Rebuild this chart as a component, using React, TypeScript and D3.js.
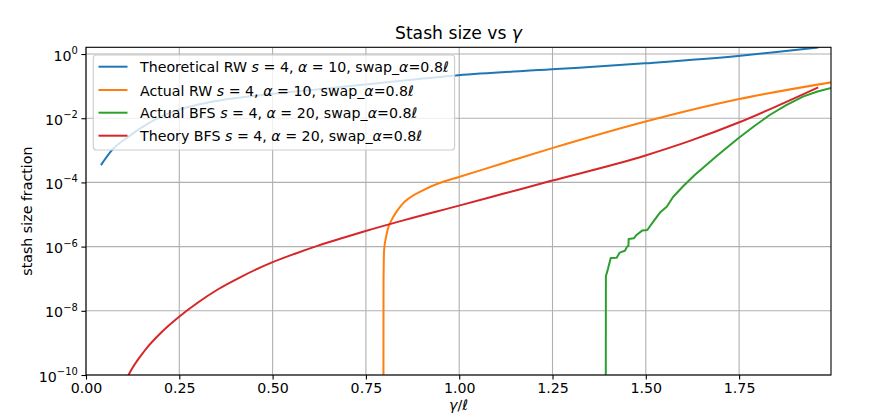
import React, { useEffect, useRef } from "react";
import * as d3 from "d3";

// figure size and axes box (pixels)
const W = 873;
const H = 417;
const plotLeft = 86;
const plotRight = 831;
const plotTop = 47.3;
const plotBottom = 375;

const FONT = "'DejaVu Sans', Verdana, sans-serif";
const fontSize = 14.2;

const xDomain = [0, 1.9962];
const yDomain = [1e-10, 1.62];
const xTicks = [0, 0.25, 0.5, 0.75, 1.0, 1.25, 1.5, 1.75];
const yTickExps = [-10, -8, -6, -4, -2, 0];

// Theoretical RW s=4, alpha=10
const theoryRwX = [0.04, 0.069, 0.113, 0.167, 0.247, 0.337, 0.471, 0.605, 0.8, 0.997, 1.248, 1.497, 1.747, 1.85, 1.962];
const theoryRwY = [3.47e-4, 1.0e-3, 2.63e-3, 6.92e-3, 1.82e-2, 3.24e-2, 5.25e-2, 7.59e-2, 0.129, 0.217, 0.333, 0.513, 0.867, 1.148, 1.6];

// Actual RW s=4, alpha=10
const actualRwX = [0.7968, 0.7972, 0.7988, 0.804, 0.808, 0.819, 0.832, 0.846, 0.904, 0.957, 0.997, 1.109, 1.247, 1.497, 1.747, 1.998];
const actualRwY = [1e-13, 7.4e-8, 7.9e-7, 2.0e-6, 3.3e-6, 6.8e-6, 1.23e-5, 2.0e-5, 5.75e-5, 1.05e-4, 1.45e-4, 3.7e-4, 1.15e-3, 7.76e-3, 3.89e-2, 0.132];

// Actual BFS s=4, alpha=20 (stepped simulation data)
const actualBfsX = [
  1.3925, 1.393, 1.399, 1.406, 1.422, 1.43, 1.444, 1.45, 1.4535, 1.454, 1.468, 1.475, 1.491, 1.504, 1.52, 1.538,
  1.556, 1.573, 1.6, 1.631, 1.69, 1.747, 1.79, 1.832, 1.875, 1.921, 1.96, 1.998,
];
const actualBfsY = [
  1e-13, 1.2e-7, 2.1e-7, 4.4e-7, 4.5e-7, 6.5e-7, 7.4e-7, 1.0e-6, 1.05e-6, 1.74e-6, 1.82e-6, 2.3e-6, 3.2e-6, 3.3e-6,
  6.0e-6, 1.15e-5, 1.74e-5, 3.5e-5, 7.6e-5, 1.7e-4, 6.6e-4, 2.34e-3, 5.6e-3, 1.26e-2, 2.5e-2, 4.7e-2, 6.8e-2, 8.9e-2,
];

// Theory BFS s=4, alpha=20
const theoryBfsX = [
  0.104, 0.113, 0.158, 0.203, 0.247, 0.3, 0.354, 0.417, 0.497, 0.56, 0.622, 0.685, 0.747, 0.855, 0.997, 1.12, 1.247,
  1.497, 1.62, 1.747, 1.85, 1.962,
];
const theoryBfsY = [
  5.6e-11, 9.5e-11, 5.9e-10, 2.19e-9, 6.2e-9, 1.82e-8, 4.7e-8, 1.17e-7, 3.16e-7, 6.0e-7, 1.07e-6, 1.82e-6, 3.0e-6,
  6.8e-6, 1.86e-5, 4.5e-5, 1.12e-4, 6.8e-4, 2.0e-3, 7.2e-3, 2.34e-2, 9.1e-2,
];

type Part = { t: string; it?: boolean };
const makeLabel = (prefix: string, alpha: number): Part[] => [
  { t: prefix + " " },
  { t: "s", it: true },
  { t: " = 4, " },
  { t: "α", it: true },
  { t: ` = ${alpha}, swap_` },
  { t: "α", it: true },
  { t: "=0.8" },
  { t: "ℓ", it: true },
];

const series = [
  { xs: theoryRwX, ys: theoryRwY, color: "#1f77b4", label: makeLabel("Theoretical RW", 10), smooth: true },
  { xs: actualRwX, ys: actualRwY, color: "#ff7f0e", label: makeLabel("Actual RW", 10), smooth: true },
  { xs: actualBfsX, ys: actualBfsY, color: "#2ca02c", label: makeLabel("Actual BFS", 20), smooth: false },
  { xs: theoryBfsX, ys: theoryBfsY, color: "#d62728", label: makeLabel("Theory BFS", 20), smooth: true },
];

function App() {
  const svgRef = useRef<SVGSVGElement>(null);

  useEffect(() => {
    const svg = d3.select(svgRef.current);
    svg.selectAll("*").remove();

    const x = d3.scaleLinear().domain(xDomain).range([plotLeft, plotRight]);
    const y = d3.scaleLog().domain(yDomain).range([plotBottom, plotTop]);

    svg.append("rect").attr("width", W).attr("height", H).attr("fill", "#fff");

    svg
      .append("clipPath")
      .attr("id", "plot-clip")
      .append("rect")
      .attr("x", plotLeft)
      .attr("y", plotTop)
      .attr("width", plotRight - plotLeft)
      .attr("height", plotBottom - plotTop);

    // grid
    const grid = svg.append("g").attr("stroke", "#b0b0b0").attr("stroke-width", 1.1);
    xTicks.forEach((t) => {
      grid.append("line").attr("x1", x(t)).attr("x2", x(t)).attr("y1", plotTop).attr("y2", plotBottom);
    });
    yTickExps.forEach((e) => {
      grid.append("line").attr("x1", plotLeft).attr("x2", plotRight).attr("y1", y(10 ** e)).attr("y2", y(10 ** e));
    });

    // lines
    const lines = svg.append("g").attr("clip-path", "url(#plot-clip)");
    series.forEach((s) => {
      const pts: [number, number][] = s.xs.map((v, i) => [v, s.ys[i]]);
      const gen = d3
        .line<[number, number]>()
        .x((d) => x(d[0]))
        .y((d) => y(d[1]))
        .curve(s.smooth ? d3.curveMonotoneX : d3.curveLinear);
      lines
        .append("path")
        .attr("d", gen(pts))
        .attr("fill", "none")
        .attr("stroke", s.color)
        .attr("stroke-width", 2)
        .attr("stroke-linejoin", "round");
    });

    // x axis
    const xAxis = d3
      .axisBottom(x)
      .tickValues(xTicks)
      .tickSize(4.6)
      .tickSizeOuter(0)
      .tickPadding(3.6)
      .tickFormat((d) => d3.format(".2f")(d as number));
    const gx = svg.append("g").attr("transform", `translate(0,${plotBottom})`).call(xAxis);
    gx.select(".domain").remove();
    gx.selectAll(".tick line").attr("stroke", "#000").attr("stroke-width", 1.1);
    gx.selectAll(".tick text").attr("fill", "#000").style("font-family", FONT).style("font-size", `${fontSize}px`);

    // y axis (log, 10^n labels)
    const yAxis = d3
      .axisLeft(y)
      .tickValues(yTickExps.map((e) => 10 ** e))
      .tickSize(4.6)
      .tickSizeOuter(0)
      .tickFormat(() => "");
    const gy = svg.append("g").attr("transform", `translate(${plotLeft},0)`).call(yAxis);
    gy.select(".domain").remove();
    gy.selectAll(".tick line").attr("stroke", "#000").attr("stroke-width", 1.1);
    gy.selectAll(".tick text").remove();
    yTickExps.forEach((e) => {
      const txt = svg
        .append("text")
        .attr("x", plotLeft - 8.2)
        .attr("y", y(10 ** e) + 6.6)
        .attr("text-anchor", "end")
        .style("font-family", FONT)
        .style("font-size", `${fontSize}px`)
        .attr("fill", "#000");
      txt.append("tspan").text("10");
      txt
        .append("tspan")
        .attr("dy", -6.6)
        .style("font-size", `${fontSize * 0.7}px`)
        .text(e < 0 ? `\u2212${-e}` : `${e}`);
    });

    // spines
    svg
      .append("rect")
      .attr("x", plotLeft)
      .attr("y", plotTop)
      .attr("width", plotRight - plotLeft)
      .attr("height", plotBottom - plotTop)
      .attr("fill", "none")
      .attr("stroke", "#000")
      .attr("stroke-width", 1.1);

    // title and axis labels
    const title = svg
      .append("text")
      .attr("x", (plotLeft + plotRight) / 2)
      .attr("y", 39)
      .attr("text-anchor", "middle")
      .style("font-family", FONT)
      .style("font-size", "17.2px");
    title.append("tspan").text("Stash size vs ");
    title.append("tspan").style("font-style", "italic").text("γ");

    const xl = svg
      .append("text")
      .attr("x", (plotLeft + plotRight) / 2)
      .attr("y", 410)
      .attr("text-anchor", "middle")
      .style("font-family", FONT)
      .style("font-size", `${fontSize}px`);
    xl.append("tspan").style("font-style", "italic").text("γ");
    xl.append("tspan").text("/");
    xl.append("tspan").style("font-style", "italic").text("ℓ");

    svg
      .append("text")
      .attr("transform", `translate(32,${(plotTop + plotBottom) / 2}) rotate(-90)`)
      .attr("text-anchor", "middle")
      .style("font-family", FONT)
      .style("font-size", `${fontSize}px`)
      .text("stash size fraction");

    // legend
    const legX = 93.3;
    const legY = 55;
    const rowY = [66.7, 90, 112.7, 135.7];
    const textX = 140;
    const leg = svg.append("g");
    const box = leg
      .append("rect")
      .attr("x", legX)
      .attr("y", legY)
      .attr("height", 95)
      .attr("rx", 3)
      .attr("fill", "#fff")
      .attr("fill-opacity", 0.8)
      .attr("stroke", "#cccccc")
      .attr("stroke-width", 1.1);
    let maxW = 0;
    series.forEach((s, i) => {
      leg
        .append("line")
        .attr("x1", 98.5)
        .attr("x2", 127.5)
        .attr("y1", rowY[i])
        .attr("y2", rowY[i])
        .attr("stroke", s.color)
        .attr("stroke-width", 2);
      const t = leg
        .append("text")
        .attr("x", textX)
        .attr("y", rowY[i] + 5.6)
        .style("font-family", FONT)
        .style("font-size", `${fontSize}px`)
        .attr("fill", "#000");
      s.label.forEach((p) => {
        t.append("tspan")
          .style("font-style", p.it ? "italic" : "normal")
          .style("white-space", "pre")
          .text(p.t);
      });
      const node = t.node() as SVGTextElement;
      maxW = Math.max(maxW, node.getComputedTextLength());
    });
    box.attr("width", textX - legX + maxW + 5.8);
  }, []);

  return (
    <svg
      ref={svgRef}
      width={W}
      height={H}
      style={{ position: "absolute", left: 0, top: 0, display: "block" }}
    />
  );
}

export default App;
